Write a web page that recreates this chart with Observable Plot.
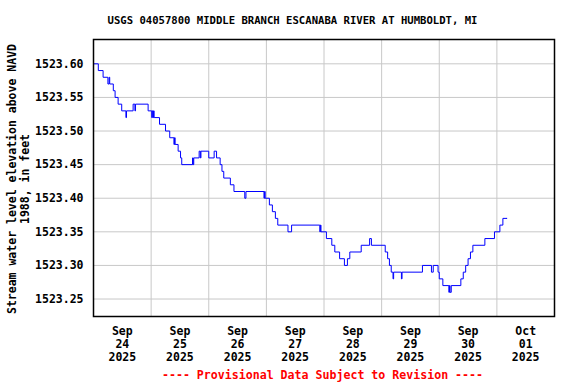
<!DOCTYPE html>
<html><head><meta charset="utf-8">
<script src="https://cdn.jsdelivr.net/npm/d3@7"></script>
<script src="https://cdn.jsdelivr.net/npm/@observablehq/plot@0.6"></script>
<style>
body{margin:0;background:#fff}
#wrap{position:relative;width:576px;height:384px;font-family:"DejaVu Sans Mono",monospace;font-weight:bold;color:#000}
.t{position:absolute;white-space:nowrap}
</style></head><body>
<div id="wrap">
<div id="chart"></div>
<div class="t" id="title" style="left:0;width:585px;top:14px;text-align:center;font-size:10.6px;line-height:12px">USGS 04057800 MIDDLE BRANCH ESCANABA RIVER AT HUMBOLDT, MI</div>
<div class="t" id="ylab" style="left:18.5px;top:179px;transform:translate(-50%,-50%) rotate(-90deg);text-align:center;font-size:11.5px;line-height:13px">Stream water level elevation above NAVD<br>1988, in feet</div>
<div class="t" id="cap" style="left:0;width:645px;top:368px;text-align:center;font-size:11.6px;line-height:14px;color:#ff0000">---- Provisional Data Subject to Revision ----</div>
</div>
<script>
const stamps = [
"2025-09-24T00:00","2025-09-24T02:00","2025-09-24T04:00","2025-09-24T06:00","2025-09-24T06:30","2025-09-24T06:45",
"2025-09-24T08:15","2025-09-24T09:00","2025-09-24T10:15","2025-09-24T11:45","2025-09-24T13:30","2025-09-24T13:45",
"2025-09-24T16:30","2025-09-24T17:15","2025-09-24T17:30","2025-09-24T22:45",
"2025-09-25T00:15","2025-09-25T00:30","2025-09-25T00:45","2025-09-25T01:00","2025-09-25T01:15","2025-09-25T03:30",
"2025-09-25T06:00","2025-09-25T07:45","2025-09-25T09:30","2025-09-25T09:45","2025-09-25T10:00","2025-09-25T11:15",
"2025-09-25T12:15","2025-09-25T12:45","2025-09-25T17:15","2025-09-25T17:30","2025-09-25T17:45","2025-09-25T20:00",
"2025-09-25T20:30","2025-09-25T20:45",
"2025-09-26T00:00","2025-09-26T02:15","2025-09-26T03:15","2025-09-26T04:45","2025-09-26T05:30","2025-09-26T06:15",
"2025-09-26T09:00","2025-09-26T10:30","2025-09-26T15:00","2025-09-26T15:30","2025-09-26T23:00","2025-09-26T23:15",
"2025-09-26T23:30",
"2025-09-27T01:15","2025-09-27T02:30","2025-09-27T03:45","2025-09-27T04:45","2025-09-27T09:00","2025-09-27T10:30",
"2025-09-27T22:15","2025-09-27T22:30","2025-09-27T22:45",
"2025-09-28T01:00","2025-09-28T03:15","2025-09-28T04:30","2025-09-28T06:30","2025-09-28T08:30","2025-09-28T09:45",
"2025-09-28T10:45","2025-09-28T15:30","2025-09-28T19:00","2025-09-28T19:45",
"2025-09-29T01:30","2025-09-29T02:30","2025-09-29T03:15","2025-09-29T04:00","2025-09-29T04:45","2025-09-29T05:00",
"2025-09-29T08:15","2025-09-29T08:30","2025-09-29T17:00","2025-09-29T20:45","2025-09-29T21:30","2025-09-29T23:30",
"2025-09-30T00:00","2025-09-30T01:30","2025-09-30T04:00","2025-09-30T04:15","2025-09-30T04:30","2025-09-30T05:00",
"2025-09-30T09:00","2025-09-30T10:00","2025-09-30T11:00","2025-09-30T12:00","2025-09-30T13:00","2025-09-30T14:00",
"2025-09-30T19:00","2025-09-30T23:00",
"2025-10-01T01:15","2025-10-01T02:30","2025-10-01T04:15"
];
const levels = [
1523.60,1523.59,1523.58,1523.57,1523.58,1523.57,
1523.56,1523.55,1523.54,1523.53,1523.52,1523.53,
1523.54,1523.53,1523.54,1523.53,
1523.52,1523.53,1523.52,1523.53,1523.52,1523.51,
1523.50,1523.49,1523.48,1523.49,1523.48,1523.47,
1523.46,1523.45,1523.46,1523.45,1523.46,1523.47,
1523.46,1523.47,
1523.46,1523.47,1523.46,1523.45,1523.44,1523.43,
1523.42,1523.41,1523.40,1523.41,1523.40,1523.41,
1523.40,
1523.39,1523.38,1523.37,1523.36,1523.35,1523.36,
1523.35,1523.36,1523.35,
1523.34,1523.33,1523.32,1523.31,1523.30,1523.31,
1523.32,1523.33,1523.34,1523.33,
1523.32,1523.31,1523.30,1523.29,1523.28,1523.29,
1523.28,1523.29,1523.30,1523.29,1523.30,1523.29,
1523.28,1523.27,1523.26,1523.27,1523.26,1523.27,
1523.28,1523.29,1523.30,1523.31,1523.32,1523.33,
1523.34,1523.35,
1523.36,1523.37,1523.37
];
const yTicks = [1523.25,1523.30,1523.35,1523.40,1523.45,1523.50,1523.55,1523.60];
const dayLines = ["2025-09-25","2025-09-26","2025-09-27","2025-09-28","2025-09-29","2025-09-30","2025-10-01"];
const labelDays = ["2025-09-24","2025-09-25","2025-09-26","2025-09-27","2025-09-28","2025-09-29","2025-09-30","2025-10-01"];
const labelMonth = ["Sep","Sep","Sep","Sep","Sep","Sep","Sep","Oct"];
const labelDay = ["24","25","26","27","28","29","30","01"];
const labelYear = ["2025","2025","2025","2025","2025","2025","2025","2025"];

const parse = s => new Date(s + (s.length === 10 ? "T00:00" : "") + "Z");
const series = stamps.map((s, i) => ({t: parse(s), v: levels[i]}));
const grid = dayLines.map(parse);
const noons = labelDays.map(s => new Date(parse(s).getTime() + 12 * 3600e3));
const xLabels = labelDays.map((_, i) => `${labelMonth[i]}\n${labelDay[i]}\n${labelYear[i]}`);

const chart = Plot.plot({
  width: 576, height: 384,
  marginTop: 39, marginBottom: 68, marginLeft: 93, marginRight: 22,
  style: {fontFamily: "DejaVu Sans Mono", fontWeight: "bold", fontSize: "11.5px", color: "black", background: "white"},
  x: {type: "utc", domain: [parse("2025-09-24"), parse("2025-10-02")], axis: null},
  y: {domain: [1523.2240, 1523.6362]},
  marks: [
    Plot.ruleY(yTicks, {stroke: "#c8c8c8", strokeWidth: 1}),
    Plot.ruleX(grid, {stroke: "#c8c8c8", strokeWidth: 1}),
    Plot.line(series, {x: "t", y: "v", curve: "step-after", stroke: "#0000ff", strokeWidth: 1}),
    Plot.axisY({ticks: yTicks, tickFormat: d => d.toFixed(2), tickSize: 0, tickPadding: 10, anchor: "left", label: null}),
    Plot.text(noons, {x: d => d, text: (d, i) => xLabels[i], frameAnchor: "bottom", lineAnchor: "top", dy: 10, lineHeight: 1.1, fill: "black"}),
    Plot.frame({stroke: "black", strokeWidth: 1.5})
  ]
});
document.getElementById("chart").appendChild(chart);
</script>
</body></html>
